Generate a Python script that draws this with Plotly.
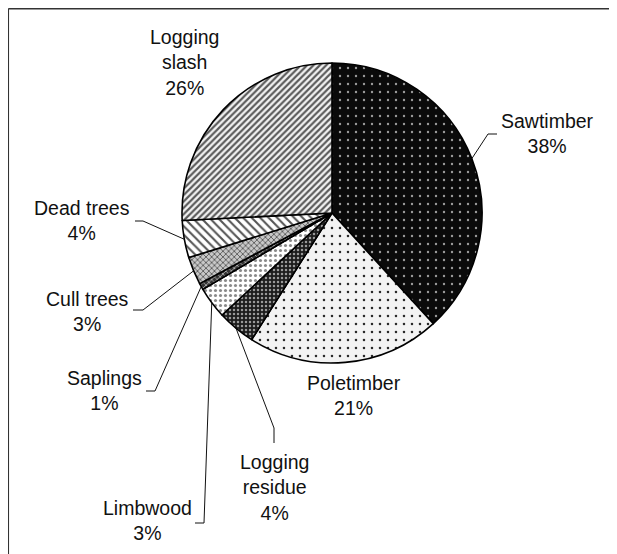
import math
import plotly.graph_objects as go

# ---- data ----
categories = ["Sawtimber", "Poletimber", "Logging residue", "Limbwood",
              "Saplings", "Cull trees", "Dead trees", "Logging slash"]
label_text = ["Sawtimber", "Poletimber", "Logging<br>residue", "Limbwood",
              "Saplings", "Cull trees", "Dead trees", "Logging<br>slash"]
values = [38.2, 20.8, 4.1, 3.4, 0.7, 3.0, 4.0, 25.8]

# ---- styles ----
W, H = 617, 554
OFF = 8  # page body margin offset
CX, CY, R = 332, 213, 150
shapes_pat = [".", ".", ".", ".", "x", "x", "\\", "/"]
bgcolors = ["#0a0a0a", "#f3f3f3", "#1c1c1c", "#ffffff", "#333333", "#c8c8c8", "#ffffff", "#f4f4f4"]
fgcolors = ["#9a9a9a", "#2a2a2a", "#9a9a9a", "#8a8a8a", "#aaaaaa", "#5a5a5a", "#555555", "#5a5a5a"]
pat_sizes = [8, 8, 4, 5, 4, 4, 6, 4.5]
solidity = [0.07, 0.08, 0.3, 0.3, 0.4, 0.4, 0.35, 0.48]

# label centres (px) and leader elbows/ends (px)
label_pos = [(547, 133.5), (354, 395.5), (274, 487), (147, 520.5),
             (104, 390), (87, 311), (82, 220), (184, 62.5)]
leader = [[(488, 134), (497, 134)], None, [(274, 428), (274, 443)],
          [(204, 523), (195, 523)], [(155, 391), (146, 391)],
          [(143, 310), (133, 310)], [(143, 221), (135, 221)], None]


def px(x):
    return (x - OFF) / W


def py(y):
    return 1 - (y - OFF) / H


fig = go.Figure(go.Pie(
    labels=categories, values=values, sort=False, direction="clockwise",
    rotation=0, textinfo="none", hoverinfo="label+percent",
    marker=dict(
        colors=bgcolors,
        line=dict(color="#000000", width=1.6),
        pattern=dict(shape=shapes_pat, bgcolor=bgcolors, fgcolor=fgcolors,
                     size=pat_sizes, solidity=solidity, fillmode="replace"),
    ),
    domain=dict(x=[px(CX - R), px(CX + R)], y=[py(CY + R), py(CY - R)]),
    showlegend=False,
))

total = sum(values)
annotations = []
shapes = []
cum = 0.0
for i, v in enumerate(values):
    mid = (cum + v / 2) / total * 2 * math.pi
    cum += v
    ex = CX + R * math.sin(mid)
    ey = CY - R * math.cos(mid)
    pct = round(v / total * 100)
    lx, ly = label_pos[i]
    annotations.append(dict(
        x=px(lx), y=py(ly), xref="paper", yref="paper",
        text=f"{label_text[i]}<br>{pct}%", showarrow=False,
        xanchor="center", yanchor="middle",
        font=dict(family="Arial, Liberation Sans, sans-serif", size=19.5, color="#111111"),
    ))
    if leader[i]:
        pts = [(ex, ey)] + leader[i]
        path = "M " + " L ".join(f"{px(a)},{py(b)}" for a, b in pts)
        shapes.append(dict(type="path", path=path, xref="paper", yref="paper",
                           line=dict(color="#111111", width=1)))

# outer frame (top and left edges visible)
shapes.append(dict(type="line", xref="paper", yref="paper",
                   x0=px(8.3), y0=py(8.8), x1=1.0, y1=py(8.8),
                   line=dict(color="#333333", width=1.5)))
shapes.append(dict(type="line", xref="paper", yref="paper",
                   x0=px(8.3), y0=py(8.8), x1=px(8.3), y1=0.0,
                   line=dict(color="#333333", width=1.5)))

fig.update_layout(
    width=W, height=H, margin=dict(l=0, r=0, t=0, b=0),
    paper_bgcolor="#ffffff", plot_bgcolor="#ffffff",
    annotations=annotations, shapes=shapes,
)

fig.write_html("out.html")
